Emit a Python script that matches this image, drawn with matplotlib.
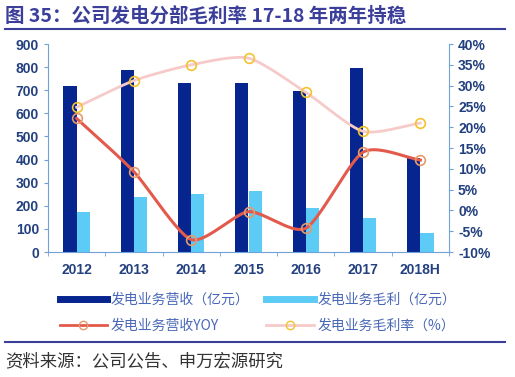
import numpy as np
import matplotlib
matplotlib.use('Agg')
import matplotlib.pyplot as plt
from matplotlib.lines import Line2D

plt.rcParams['font.family'] = ['Noto Sans CJK SC', 'DejaVu Sans']

# ── Data ─────────────────────────────────────────────────────────
YEARS = ['2012', '2013', '2014', '2015', '2016', '2017', '2018H']
REVENUE = [718, 788, 730, 730, 698, 795, 405]        # 发电业务营收（亿元）
GROSS = [174, 240, 251, 263, 192, 148, 81]           # 发电业务毛利（亿元）
REV_YOY = [22.1, 9.3, -7.0, -0.3, -4.3, 14.0, 12.1]  # 营收YOY (%)
MARGIN = [24.8, 31.2, 35.0, 36.6, 28.4, 19.0, 21.0]  # 毛利率 (%)

NAVY = '#06258F'
SKY = '#5CCBF5'
RED = '#E35A4C'
PINK = '#F7CACA'
TICK = '#23407F'
AXIS = '#6FA3D8'
FRAME = '#3B3F9A'

W, H = 515, 377


def smooth(x, y, n=24, k=0.35):
    """Cardinal spline through the points (display smoothing only)."""
    p = np.column_stack([x, y]).astype(float)
    p = np.vstack([2 * p[0] - p[1], p, 2 * p[-1] - p[-2]])
    out = []
    t = np.linspace(0, 1, n)[:, None]
    for i in range(1, len(p) - 2):
        p0, p1, p2, p3 = p[i - 1], p[i], p[i + 1], p[i + 2]
        m1, m2 = k * (p2 - p0), k * (p3 - p1)
        h00 = 2 * t ** 3 - 3 * t ** 2 + 1
        h10 = t ** 3 - 2 * t ** 2 + t
        h01 = -2 * t ** 3 + 3 * t ** 2
        h11 = t ** 3 - t ** 2
        seg = h00 * p1 + h10 * m1 + h01 * p2 + h11 * m2
        out.append(seg if i == 1 else seg[1:])
    s = np.vstack(out)
    return s[:, 0], s[:, 1]


fig = plt.figure(figsize=(W / 100, H / 100), dpi=100)
ax = fig.add_axes([48 / W, (H - 252) / H, 401 / W, 208 / H])
ax2 = ax.twinx()

x = np.arange(len(YEARS))
bw = 0.23
ax.bar(x - bw / 2, REVENUE, bw, color=NAVY, zorder=2)
ax.bar(x + bw / 2, GROSS, bw, color=SKY, zorder=2)
ax.set_xlim(-0.5, len(YEARS) - 0.5)
ax.set_ylim(0, 900)
ax.set_yticks(range(0, 901, 100))

sx, sy = smooth(x, MARGIN)
ax2.plot(sx, sy, color=PINK, lw=2, zorder=3)
ax2.plot(x, MARGIN, ls='none', marker='o', ms=7, mfc='none', mec='#F3C22E', mew=1.2, zorder=4)
sx, sy = smooth(x, REV_YOY)
ax2.plot(sx, sy, color=RED, lw=2.2, zorder=3)
ax2.plot(x, REV_YOY, ls='none', marker='o', ms=7, mfc='none', mec='#E59A6A', mew=1.2, zorder=4)
ax2.set_ylim(-10, 40)
ax2.set_yticks(range(-10, 41, 5))
ax2.set_yticklabels([f'{v}%' for v in range(-10, 41, 5)])

for a in (ax, ax2):
    for s in a.spines.values():
        s.set_visible(False)
    a.tick_params(colors=AXIS, labelcolor=TICK, labelsize=10, length=3, width=0.8)
    for lab in a.get_yticklabels():
        lab.set_fontweight('bold')
        lab.set_family(['Liberation Sans', 'DejaVu Sans'])
ax.spines['left'].set_visible(True)
ax.spines['left'].set_color(AXIS)
ax.spines['bottom'].set_visible(True)
ax.spines['bottom'].set_color(AXIS)
ax2.spines['right'].set_visible(True)
ax2.spines['right'].set_color(AXIS)

ax.set_xticks(x)
ax.set_xticklabels(YEARS, fontweight='bold', family=['Liberation Sans', 'DejaVu Sans'])
ax.set_xticks(np.arange(-0.5, len(YEARS), 1), minor=True)
ax.tick_params(axis='x', which='major', length=0, pad=8)
ax.tick_params(axis='x', which='minor', length=3, color=AXIS)

# ── Legend ───────────────────────────────────────────────────────
handles = [
    Line2D([], [], color=NAVY, lw=5),
    Line2D([], [], color=RED, lw=2, marker='o', ms=6, mfc='none', mec='#E59A6A'),
    Line2D([], [], color=SKY, lw=5),
    Line2D([], [], color=PINK, lw=2, marker='o', ms=6, mfc='none', mec='#F3C22E'),
]
labels = ['发电业务营收（亿元）', '发电业务营收YOY', '发电业务毛利（亿元）', '发电业务毛利率（%）']
leg = fig.legend(handles, labels, ncol=2, loc='center', bbox_to_anchor=(258 / W, 1 - 313 / H),
                 frameon=False, fontsize=10, handlelength=3.4, columnspacing=1.2,
                 handletextpad=0.3, labelspacing=0.85)
for t in leg.get_texts():
    t.set_color('#4A68B8')

# ── Title, rules and source ─────────────────────────────────────
fig.text(5 / W, 1 - 16 / H, '图 35：公司发电分部毛利率 17-18 年两年持稳',
         fontsize=14, fontweight='bold', color=FRAME, va='center', ha='left')
fig.add_artist(Line2D([5 / W, 505 / W], [1 - 29 / H] * 2, color=FRAME, lw=1.5))
fig.add_artist(Line2D([5 / W, 505 / W], [1 - 342 / H] * 2, color=FRAME, lw=1.5))
fig.text(5 / W, 1 - 361 / H, '资料来源：公司公告、申万宏源研究',
         fontsize=12.5, color='#333333', va='center', ha='left')

fig.savefig('out.png', dpi=100)
